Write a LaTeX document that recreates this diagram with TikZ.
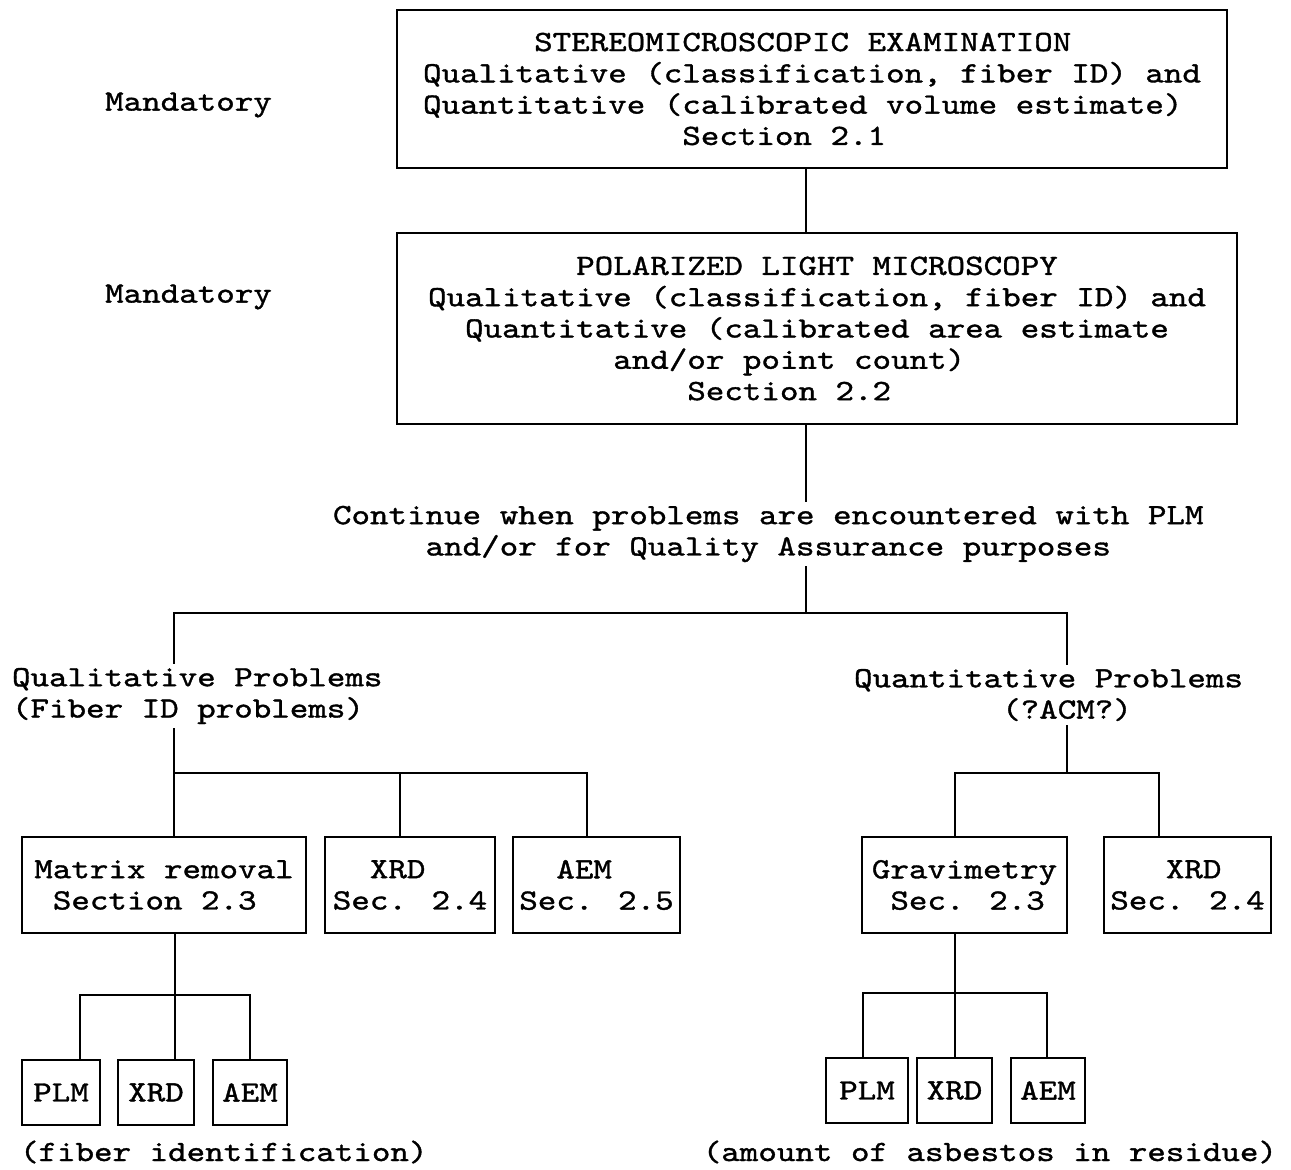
\documentclass[tikz,border=0pt]{standalone}
\usepackage{fontspec}
\newfontfamily\cour{lmmono10-regular.otf}[FakeStretch=1.2,FakeBold=1.2]
\newcommand{\ind}[1]{\hphantom{#1}}
\begin{document}
\begin{tikzpicture}[x=1pt,y=-1pt,
  every node/.style={font=\fontsize{29.4}{31.3}\cour, inner sep=0pt, outer sep=0pt},
  box/.style={draw, line width=2pt, align=left},
  lbl/.style={align=left},
  conn/.style={line width=2pt},
  gapin/.style={shorten >=4pt},
  gapout/.style={shorten <=4pt}]
\useasboundingbox (0,0) rectangle (1291,1170);

% main boxes
\node[box, minimum width=830pt, minimum height=158pt] (b1) at (812,89)
 {\ind{XXXXXX}STEREOMICROSCOPIC EXAMINATION\\
  Qualitative (classification, fiber ID) and\\
  Quantitative (calibrated volume estimate)\\
  \ind{XXXXXXXXXXXXXX}Section 2.1};
\node[box, minimum width=840pt, minimum height=191pt] (b2) at (817,328.5)
 {\ind{XXXXXXXX}POLARIZED LIGHT MICROSCOPY\\
  Qualitative (classification, fiber ID) and\\
  \ind{XX}Quantitative (calibrated area estimate\\
  \ind{XXXXXXXXXX}and/or point count)\\
  \ind{XXXXXXXXXXXXXX}Section 2.2};

\node (m1) at (188.5,105) {Mandatory};
\node (m2) at (188.5,297) {Mandatory};

\node[lbl, anchor=west] (cont) at (333,534)
 {Continue when problems are encountered with PLM\\
  \ind{XXXXX}and/or for Quality Assurance purposes};

\node[lbl, anchor=west] (qual) at (12,696)
 {Qualitative Problems\\(Fiber ID problems)};
\node[lbl, anchor=west] (quan) at (854,695)
 {Quantitative Problems\\\ind{XXXXXXXX}(?ACM?)};

% second level boxes
\node[box, minimum width=284pt, minimum height=96pt] (mat) at (164,885)
 {Matrix removal\\\ind{X}Section 2.3};
\node[box, minimum width=170pt, minimum height=96pt] (xrd1) at (410,885)
 {\ind{XX}XRD\\Sec. 2.4};
\node[box, minimum width=167pt, minimum height=96pt] (aem1) at (596.5,885)
 {\ind{XX}AEM\\Sec. 2.5};
\node[box, minimum width=205pt, minimum height=96pt] (grav) at (964.5,885)
 {Gravimetry\\\ind{X}Sec. 2.3};
\node[box, minimum width=167pt, minimum height=96pt] (xrd2) at (1187.5,885)
 {\ind{XXX}XRD\\Sec. 2.4};

% third level boxes
\node[box, minimum width=78pt, minimum height=65pt] (plm3) at (61,1092.5) {PLM};
\node[box, minimum width=76pt, minimum height=65pt] (xrd3) at (156,1092.5) {XRD};
\node[box, minimum width=74pt, minimum height=65pt] (aem3) at (250,1092.5) {AEM};
\node[box, minimum width=82pt, minimum height=65pt] (plm4) at (867,1090.5) {PLM};
\node[box, minimum width=75pt, minimum height=65pt] (xrd4) at (954.5,1090.5) {XRD};
\node[box, minimum width=74pt, minimum height=65pt] (aem4) at (1048,1090.5) {AEM};

\node[lbl, anchor=west] (fid) at (20,1152) {(fiber identification)};
\node[lbl, anchor=east] (amt) at (1277,1152) {(amount of asbestos in residue)};

% junction coordinates
\coordinate (j0) at (806,613);
\coordinate (lq) at (174,613);
\coordinate (rq) at (1067,613);
\coordinate (h1) at (174,773);
\coordinate (h1m) at (400,773);
\coordinate (h1r) at (587,773);
\coordinate (h2) at (1067,773);
\coordinate (h2l) at (955,773);
\coordinate (h2r) at (1159,773);
\coordinate (h3) at (175,995);
\coordinate (h3l) at (80,995);
\coordinate (h3r) at (250,995);
\coordinate (h4) at (955,993);
\coordinate (h4l) at (863,993);
\coordinate (h4r) at (1047,993);

% connectors
\draw[conn] (b1.south -| j0) -- (b2.north -| j0);
\draw[conn, gapin] (b2.south -| j0) -- (cont.north -| j0);
\draw[conn, gapout] (cont.south -| j0) -- (j0);
\draw[conn, gapin, gapout] (qual.north -| lq) -- (lq) -- (rq) -- (quan.north -| rq);
\draw[conn, gapout] (qual.south -| h1) -- (mat.north -| h1);
\draw[conn] (h1) -- (h1r) -- (aem1.north -| h1r);
\draw[conn] (h1m) -- (xrd1.north -| h1m);
\draw[conn, gapout] (quan.south -| h2) -- (h2);
\draw[conn] (grav.north -| h2l) -- (h2l) -- (h2r) -- (xrd2.north -| h2r);
\draw[conn] (mat.south -| h3) -- (xrd3.north -| h3);
\draw[conn] (plm3.north -| h3l) -- (h3l) -- (h3r) -- (aem3.north -| h3r);
\draw[conn] (grav.south -| h4) -- (xrd4.north -| h4);
\draw[conn] (plm4.north -| h4l) -- (h4l) -- (h4r) -- (aem4.north -| h4r);
\end{tikzpicture}
\end{document}
